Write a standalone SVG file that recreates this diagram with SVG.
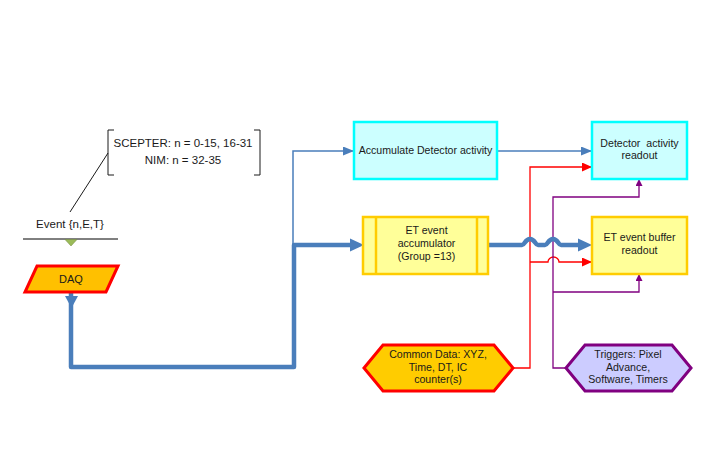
<svg xmlns="http://www.w3.org/2000/svg" width="708" height="454" viewBox="0 0 708 454">
<defs>
<style>
.t{font-family:"Liberation Sans",Arial,sans-serif;font-size:10.6px;fill:#1a1a1a;text-anchor:middle}
.c{font-family:"Liberation Sans",Arial,sans-serif;font-size:11.5px;fill:#1a1a1a;text-anchor:middle}
.cy{fill:#ccffff;stroke:#00ffff;stroke-width:2.5}
.yl{fill:#ffff99;stroke:#ffcc00;stroke-width:2.5}
.thin{fill:none;stroke:#4a7ebb;stroke-width:1.5}
.thick{fill:none;stroke:#4a7ebb;stroke-width:4.5;stroke-linejoin:round}
.red{fill:none;stroke:#ff0000;stroke-width:1.3}
.pur{fill:none;stroke:#800080;stroke-width:1.3}
</style>
<marker id="aB" markerUnits="userSpaceOnUse" markerWidth="11" markerHeight="9" refX="11" refY="4.5" orient="auto"><path d="M0,0 L11,4.5 L0,9 z" fill="#4a7ebb"/></marker>
<marker id="aR" markerUnits="userSpaceOnUse" markerWidth="10" markerHeight="9" refX="10" refY="4.5" orient="auto"><path d="M0,0 L10,4.5 L0,9 z" fill="#ff0000"/></marker>
<marker id="aP" markerUnits="userSpaceOnUse" markerWidth="7" markerHeight="7" refX="7" refY="3.5" orient="auto"><path d="M0,0 L7,3.5 L0,7 z" fill="#800080"/></marker>
</defs>
<rect width="708" height="454" fill="#ffffff"/>

<g id="annotation">
<path d="M114,130 L108,130 L108,175 L114,175 M254,130 L260,130 L260,175 L254,175" fill="none" stroke="#1a1a1a" stroke-width="1"/>
<text class="c" x="183" y="147">SCEPTER: n = 0-15, 16-31</text>
<text class="c" x="183" y="164">NIM: n = 32-35</text>
<line x1="108" y1="153" x2="70" y2="212" stroke="#1a1a1a" stroke-width="1"/>
</g>

<g id="event">
<text class="c" x="70" y="228">Event {n,E,T}</text>
<line x1="23" y1="239" x2="118" y2="239" stroke="#000" stroke-width="1"/>
<polygon points="65,239.5 77,239.5 71,246" fill="#9bbb59" stroke="#71893f" stroke-width="0.5"/>
</g>

<g id="connectors">
<path class="thick" d="M71,292 L71,367 L294,367 L294,245 L352,245"/>
<polygon points="65,296 78,296 71.5,308" fill="#4a7ebb"/>
<path d="M364,245 L350,238.5 L350,251.5 z" fill="#4a7ebb"/>
<path class="thin" d="M293,245 L293,151 L354,151" marker-end="url(#aB)"/>
<path class="thin" d="M497,151 L592,151" marker-end="url(#aB)"/>
<path class="red" d="M513,368 L530,368 L530,167 L592,167" marker-end="url(#aR)"/>
<path class="red" d="M530,262 L548,262 A5.5,5 0 0 1 559,262 L592,262" marker-end="url(#aR)"/>
<path class="pur" d="M566,368 L553,368 L553,197 L639,197 L639,179" marker-end="url(#aP)"/>
<path class="pur" d="M553,292 L639,292 L639,274" marker-end="url(#aP)"/>
<path class="thick" d="M488,245 L522,245 C525,245 525,239 530,239 C535,239 535,245 538,245 L545,245 C548,245 548,239 553,239 C558,239 558,245 561,245 L580,245"/>
<path d="M592,245 L578,238.5 L578,251.5 z" fill="#4a7ebb"/>
</g>

<g id="daq">
<polygon points="37,266 118,266 106,292 25,292" fill="#ffc000" stroke="#ff0000" stroke-width="3"/>
<text class="t" x="71" y="283" style="font-size:11px">DAQ</text>
</g>

<g id="accumulate">
<rect class="cy" x="354" y="122" width="143" height="57"/>
<text class="t" x="425.5" y="154">Accumulate Detector activity</text>
</g>

<g id="et-accumulator">
<rect class="yl" x="363" y="217" width="125" height="57"/>
<line x1="376" y1="217" x2="376" y2="274" stroke="#ffcc00" stroke-width="2.5"/>
<line x1="477" y1="217" x2="477" y2="274" stroke="#ffcc00" stroke-width="2.5"/>
<text class="t" x="426.5" y="234">ET event</text>
<text class="t" x="426.5" y="247">accumulator</text>
<text class="t" x="426.5" y="260">(Group =13)</text>
</g>

<g id="detector-readout">
<rect class="cy" x="592" y="122" width="95" height="57"/>
<text class="t" x="639.5" y="147" xml:space="preserve">Detector  activity</text>
<text class="t" x="639.5" y="159">readout</text>
</g>

<g id="et-buffer-readout">
<rect class="yl" x="592" y="217" width="95" height="57"/>
<text class="t" x="639.5" y="241">ET event buffer</text>
<text class="t" x="639.5" y="254">readout</text>
</g>

<g id="common-data">
<polygon points="364,368 383,345 494,345 513,368 494,391 383,391" fill="#ffcc00" stroke="#ff0000" stroke-width="3"/>
<text class="t" x="438" y="358">Common Data: XYZ,</text>
<text class="t" x="438" y="371">Time, DT, IC</text>
<text class="t" x="438" y="383">counter(s)</text>
</g>

<g id="triggers">
<polygon points="566,368 585,345 672,345 691,368 672,391 585,391" fill="#ccccff" stroke="#800080" stroke-width="3"/>
<text class="t" x="628" y="358">Triggers: Pixel</text>
<text class="t" x="628" y="371">Advance,</text>
<text class="t" x="628" y="383">Software, Timers</text>
</g>
</svg>
